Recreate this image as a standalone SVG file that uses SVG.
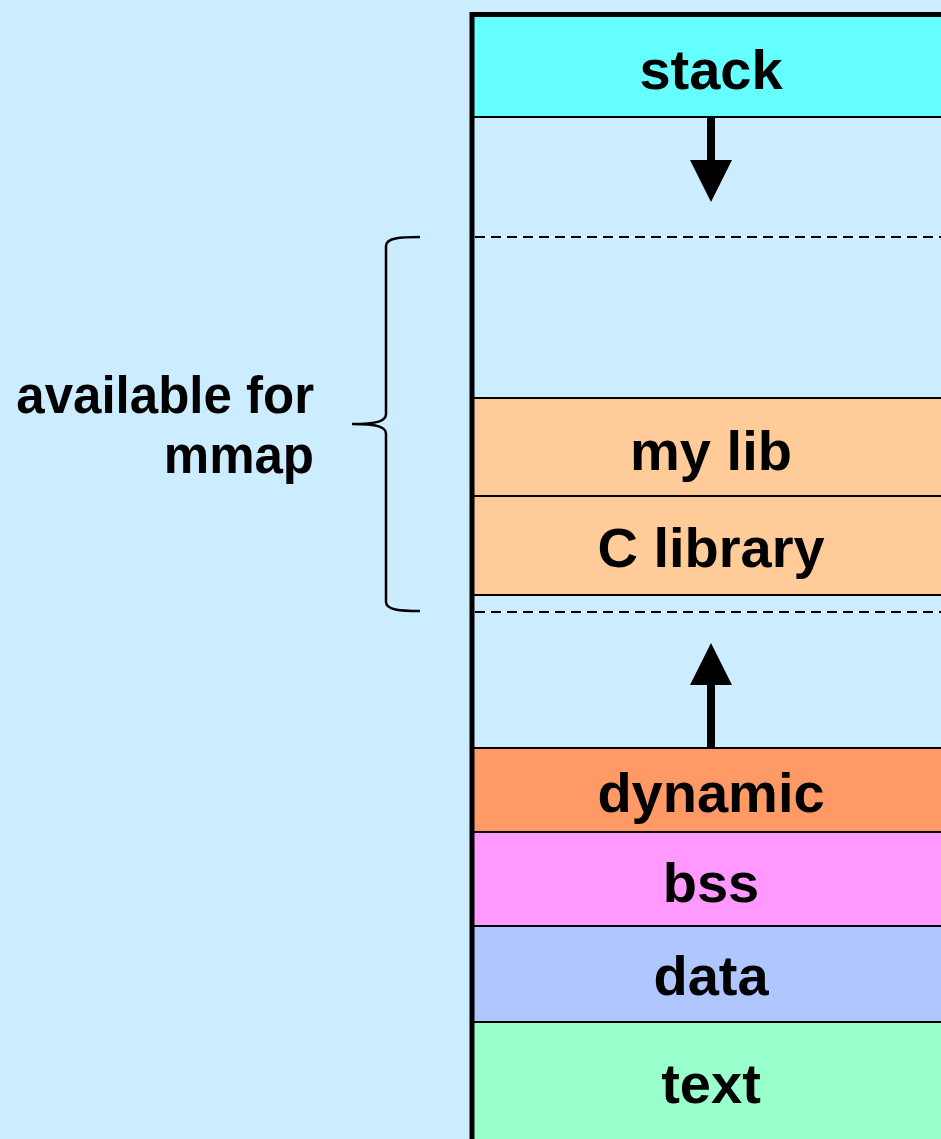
<svg xmlns="http://www.w3.org/2000/svg" width="941" height="1139" viewBox="0 0 941 1139">
  <style>
    .seg { stroke: #000; stroke-width: 2; }
    .lbl { font-family: "Liberation Sans", Arial, sans-serif; font-weight: bold; font-size: 56px; text-anchor: middle; fill: #000; }
    .side { font-family: "Liberation Sans", Arial, sans-serif; font-weight: bold; font-size: 51px; text-anchor: end; fill: #000; }
    .dashbase { stroke: #fff; stroke-width: 1; }
    .dash { stroke: #000; stroke-width: 2; stroke-dasharray: 10 6; }
    .shaft { stroke: #000; stroke-width: 8; }
  </style>

  <!-- background -->
  <rect x="0" y="0" width="941" height="1139" fill="#CCECFF"/>

  <!-- memory segments -->
  <g id="stack">
    <rect class="seg" x="472" y="16" width="480" height="101" fill="#66FFFF"/>
    <text class="lbl" x="711" y="89">stack</text>
  </g>
  <g id="mylib">
    <rect class="seg" x="472" y="398" width="480" height="98" fill="#FFCC99"/>
    <text class="lbl" x="711" y="470">my lib</text>
  </g>
  <g id="clibrary">
    <rect class="seg" x="472" y="496" width="480" height="99" fill="#FFCC99"/>
    <text class="lbl" x="711" y="567">C library</text>
  </g>
  <g id="dynamic">
    <rect class="seg" x="472" y="748" width="480" height="84" fill="#FF9966"/>
    <text class="lbl" x="711" y="812">dynamic</text>
  </g>
  <g id="bss">
    <rect class="seg" x="472" y="832" width="480" height="94" fill="#FF99FF"/>
    <text class="lbl" x="711" y="902">bss</text>
  </g>
  <g id="data">
    <rect class="seg" x="472" y="926" width="480" height="96" fill="#AFC6FF"/>
    <text class="lbl" x="711" y="995">data</text>
  </g>
  <g id="text">
    <rect class="seg" x="472" y="1022" width="480" height="130" fill="#99FFCC"/>
    <text class="lbl" x="711" y="1103">text</text>
  </g>

  <!-- outer frame: thick top and left edges -->
  <g id="frame">
    <path d="M472 1145 V14.5 H945" fill="none" stroke="#000" stroke-width="5"/>
  </g>

  <!-- mmap region boundaries -->
  <g id="boundaries">
    <line class="dashbase" x1="475" y1="237" x2="941" y2="237"/>
    <line class="dash" x1="475" y1="237" x2="941" y2="237"/>
    <line class="dashbase" x1="475" y1="612" x2="941" y2="612"/>
    <line class="dash" x1="475" y1="612" x2="941" y2="612"/>
  </g>

  <!-- growth arrows -->
  <g id="connectors">
    <line class="shaft" x1="711" y1="117" x2="711" y2="162"/>
    <polygon points="690,160 732,160 711,202" fill="#000"/>
    <line class="shaft" x1="711" y1="748" x2="711" y2="683"/>
    <polygon points="690,685 732,685 711,643" fill="#000"/>
  </g>

  <!-- brace and label -->
  <g id="mmap-label">
    <path d="M420 237 C400 237 386 238 386 246 V414 C386 421 378 424 352 424 C378 424 386 427 386 434 V602 C386 610 400 611 420 611" fill="none" stroke="#000" stroke-width="2.5"/>
    <text class="side" x="314" y="413">available for</text>
    <text class="side" x="314" y="473">mmap</text>
  </g>
</svg>
